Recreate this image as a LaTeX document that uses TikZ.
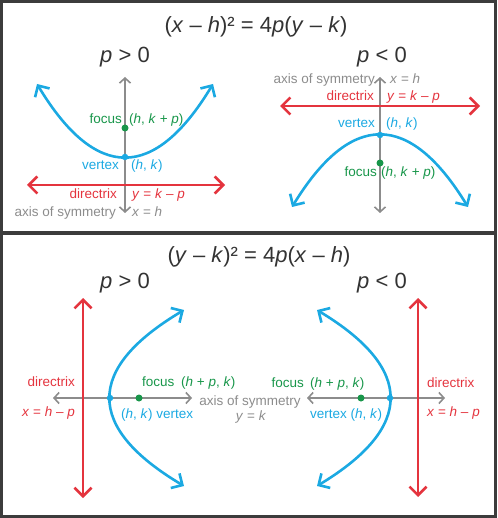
\documentclass[tikz,border=0pt]{standalone}
\usepackage{fontspec}
\setmainfont{Liberation Sans}
\usetikzlibrary{arrows.meta,positioning}
\definecolor{curve}{RGB}{27,169,226}
\definecolor{dirred}{RGB}{228,52,62}
\definecolor{focgreen}{RGB}{24,150,74}
\definecolor{axgray}{RGB}{140,140,140}
\definecolor{ink}{RGB}{51,51,51}
\definecolor{framegray}{RGB}{60,60,60}
\newcommand{\vi}[1]{\textit{#1}}

\begin{document}
\begin{tikzpicture}[x=1pt, y=-1pt,
    lbl/.style={inner sep=0pt, text height=9.5pt, text depth=2.8pt, font=\fontsize{13.5}{16}\selectfont},
    eqn/.style={inner sep=0pt, text=ink, font=\fontsize{22}{26}\selectfont},
    sgn/.style={inner sep=0pt, text=ink, font=\fontsize{22}{26}\selectfont},
    parab/.style={draw=curve, line width=2.6pt, {Straight Barb[length=8.5pt,width=17pt]}-{Straight Barb[length=8.5pt,width=17pt]}},
    dline/.style={draw=dirred, line width=2.6pt, {Straight Barb[length=8.5pt,width=17pt]}-{Straight Barb[length=8.5pt,width=17pt]}},
    axline/.style={draw=axgray, line width=1.6pt, {Straight Barb[length=5pt,width=11pt]}-{Straight Barb[length=5pt,width=11pt]}},
    vdot/.style={circle, inner sep=0pt, minimum size=6.5pt, fill=curve},
    fdot/.style={circle, inner sep=0pt, minimum size=7pt, fill=focgreen}]
    \useasboundingbox (0,0) rectangle (497,518);
    \draw[framegray, line width=3pt] (1.5,1.5) rectangle (495.5,516.5);
    \draw[framegray, line width=4pt] (0,233) -- (497,233);

    % (x - h)^2 = 4p(y - k)
    \node[eqn] (eqtop) at (256,27) {(\vi{x} – \vi{h})² = 4\vi{p}(\vi{y} – \vi{k})};
    \node[sgn] (sgnA) at (125,57) {\vi{p} > 0};
    \node[sgn] (sgnB) at (382,57) {\vi{p} < 0};

    \coordinate (axA1) at (125,77);   \coordinate (axA2) at (125,213);
    \coordinate (drA1) at (27,185);   \coordinate (drA2) at (225,185);
    \coordinate (pA1) at (37,84);     \coordinate (pA2) at (213,84);
    \coordinate (vA) at (125,157);    \coordinate (fA) at (125,128);
    \draw[axline] (axA1) -- (axA2);
    \draw[dline] (drA1) -- (drA2);
    \draw[parab] (pA1) .. controls (95.7,181.3) and (154.3,181.3) .. (pA2);
    \node[vdot] at (vA) {};
    \node[fdot] at (fA) {};
    \node[lbl, text=focgreen, anchor=east] (focA) at (122,120) {focus};
    \node[lbl, text=focgreen, anchor=west] (focAv) at (129,120) {(\vi{h}, \vi{k} + \vi{p})};
    \node[lbl, text=curve, anchor=east] (verA) at (119,166) {vertex};
    \node[lbl, text=curve, anchor=west] (verAv) at (131,166) {(\vi{h}, \vi{k})};
    \node[lbl, text=dirred, anchor=east] (dirA) at (117,195) {directrix};
    \node[lbl, text=dirred, anchor=west] (dirAv) at (132,195) {\vi{y} = \vi{k} – \vi{p}};
    \node[lbl, text=axgray, anchor=east] (symA) at (116,213) {axis of symmetry};
    \node[lbl, text=axgray, anchor=west] (symAv) at (132,213) {\vi{x} = \vi{h}};

    \coordinate (axB1) at (380,77);   \coordinate (axB2) at (380,213);
    \coordinate (drB1) at (280,106);  \coordinate (drB2) at (480,106);
    \coordinate (pB1) at (292,207);   \coordinate (pB2) at (468,207);
    \coordinate (vB) at (380,135);    \coordinate (fB) at (380,163);
    \draw[axline] (axB1) -- (axB2);
    \draw[dline] (drB1) -- (drB2);
    \draw[parab] (pB1) .. controls (350.7,111) and (409.3,111) .. (pB2);
    \node[vdot] at (vB) {};
    \node[fdot] at (fB) {};
    \node[lbl, text=axgray, anchor=east] (symB) at (375,80) {axis of symmetry};
    \node[lbl, text=axgray, anchor=west] (symBv) at (390,80) {\vi{x} = \vi{h}};
    \node[lbl, text=dirred, anchor=east] (dirB) at (374,97) {directrix};
    \node[lbl, text=dirred, anchor=west] (dirBv) at (387,97) {\vi{y} = \vi{k} – \vi{p}};
    \node[lbl, text=curve, anchor=east] (verB) at (375,124) {vertex};
    \node[lbl, text=curve, anchor=west] (verBv) at (386,124) {(\vi{h}, \vi{k})};
    \node[lbl, text=focgreen, anchor=east] (focB) at (377,173) {focus};
    \node[lbl, text=focgreen, anchor=west] (focBv) at (381,173) {(\vi{h}, \vi{k} + \vi{p})};

    % (y - k)^2 = 4p(x - h)
    \node[eqn] (eqbot) at (259,257) {(\vi{y} – \vi{k})² = 4\vi{p}(\vi{x} – \vi{h})};
    \node[sgn] (sgnC) at (125,283) {\vi{p} > 0};
    \node[sgn] (sgnD) at (382,283) {\vi{p} < 0};

    \coordinate (axC1) at (53,398);   \coordinate (axC2) at (192,398);
    \coordinate (drC1) at (83,298);   \coordinate (drC2) at (83,498);
    \coordinate (pC1) at (184,310);   \coordinate (pC2) at (184,486);
    \coordinate (vC) at (110,398);    \coordinate (fC) at (139,398);
    \draw[axline] (axC1) -- (axC2);
    \draw[dline] (drC1) -- (drC2);
    \draw[parab] (pC1) .. controls (85.3,368.7) and (85.3,427.3) .. (pC2);
    \node[vdot] at (vC) {};
    \node[fdot] at (fC) {};
    \node[lbl, text=dirred, anchor=east] (dirC) at (75,383) {directrix};
    \node[lbl, text=dirred, anchor=east] (dirCv) at (75,413) {\vi{x} = \vi{h} – \vi{p}};
    \node[lbl, text=focgreen, anchor=west] (focC) at (142,383) {focus};
    \node[lbl, text=focgreen, anchor=west] (focCv) at (181,383) {(\vi{h} + \vi{p}, \vi{k})};
    \node[lbl, text=curve, anchor=west] (verC) at (121,415) {(\vi{h}, \vi{k}) vertex};
    \node[lbl, text=axgray] (symC) at (250,402) {axis of symmetry};
    \node[lbl, text=axgray] (symCv) at (251,417) {\vi{y} = \vi{k}};

    \coordinate (axD1) at (307,398);  \coordinate (axD2) at (445,398);
    \coordinate (drD1) at (418,298);  \coordinate (drD2) at (418,497);
    \coordinate (pD1) at (317,310);   \coordinate (pD2) at (317,486);
    \coordinate (vD) at (390,398);    \coordinate (fD) at (361,398);
    \draw[axline] (axD1) -- (axD2);
    \draw[dline] (drD1) -- (drD2);
    \draw[parab] (pD1) .. controls (414.3,368.7) and (414.3,427.3) .. (pD2);
    \node[vdot] at (vD) {};
    \node[fdot] at (fD) {};
    \node[lbl, text=focgreen, anchor=east] (focD) at (304,384) {focus};
    \node[lbl, text=focgreen, anchor=west] (focDv) at (310,384) {(\vi{h} + \vi{p}, \vi{k})};
    \node[lbl, text=curve, anchor=west] (verD) at (310,415) {vertex (\vi{h}, \vi{k})};
    \node[lbl, text=dirred, anchor=west] (dirD) at (427,384) {directrix};
    \node[lbl, text=dirred, anchor=west] (dirDv) at (427,413) {\vi{x} = \vi{h} – \vi{p}};
\end{tikzpicture}
\end{document}
